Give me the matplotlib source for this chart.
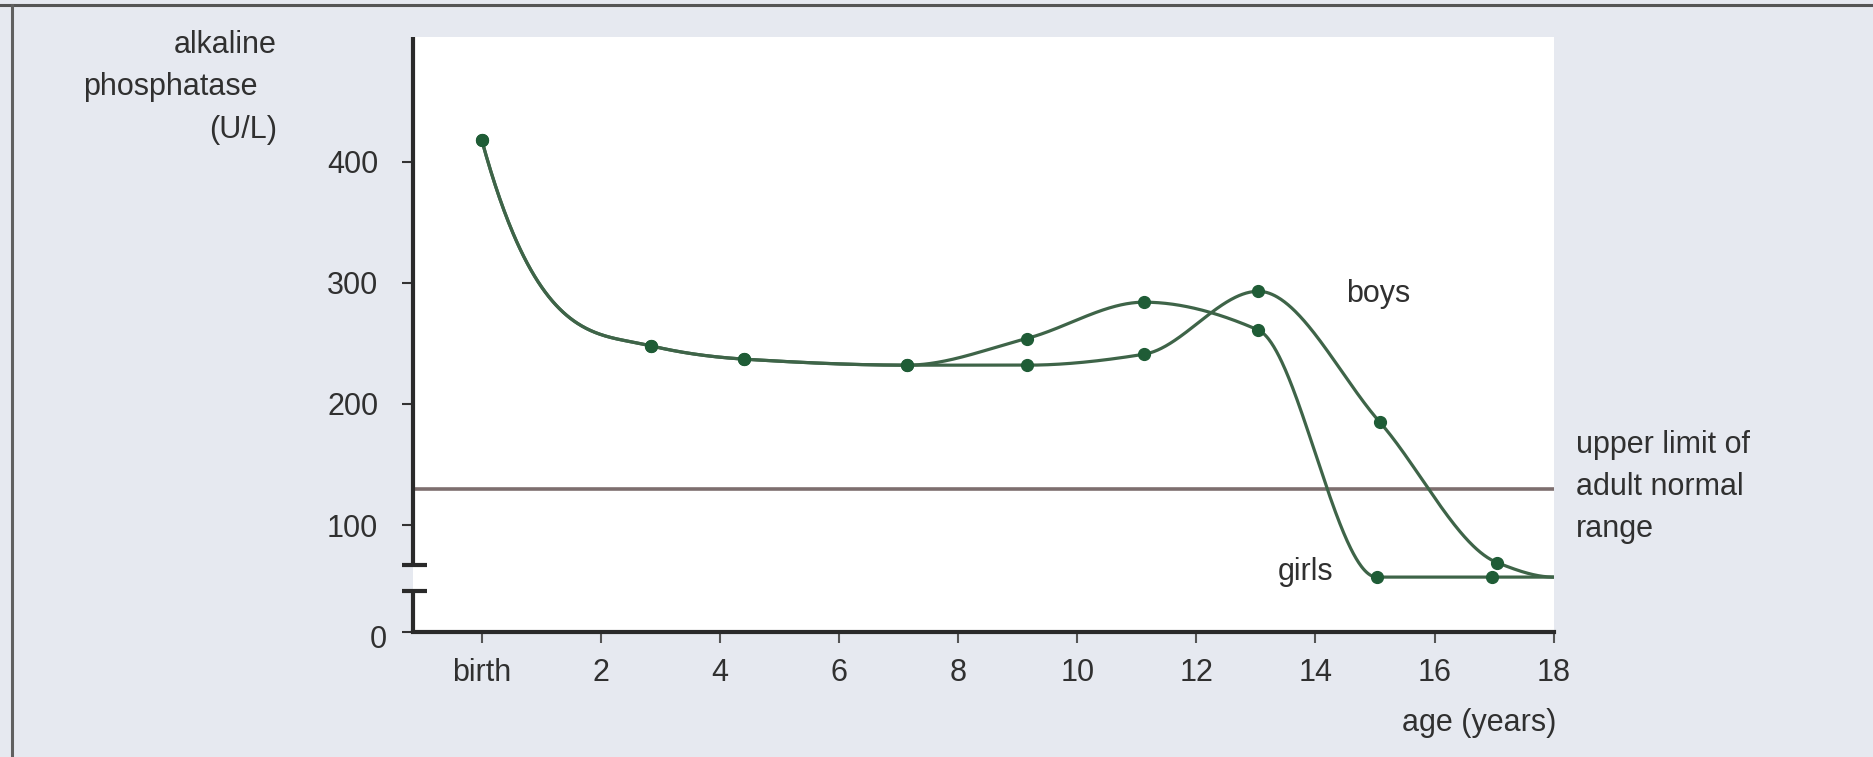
import numpy as np
import matplotlib
matplotlib.use("Agg")
import matplotlib.pyplot as plt
from matplotlib.lines import Line2D
from matplotlib.transforms import ScaledTranslation

plt.rcParams['font.family'] = ['Liberation Sans', 'DejaVu Sans']

# ---------------- data ----------------
girls_age = [0.0, 2.84, 4.40, 7.14, 9.15, 11.12, 13.04, 15.03, 16.97]
girls_alp = [418, 248, 237, 232, 254, 284, 261, 57, 57]
boys_age = [0.0, 2.84, 4.40, 7.14, 9.15, 11.12, 13.04, 15.08, 17.05]
boys_alp = [418, 248, 237, 232, 232, 241, 293, 185, 69]
line_end_age = 18.0          # both curves run on to the end of the axis
girls_end_alp = 57
boys_end_alp = 57
adult_upper_limit = 130      # upper limit of adult normal range (U/L)

x_tick_values = [0, 2, 4, 6, 8, 10, 12, 14, 16, 18]
x_tick_labels = ['birth', '2', '4', '6', '8', '10', '12', '14', '16', '18']
y_tick_values = [100, 200, 300, 400]
y_tick_labels = ['100', '200', '300', '400']
y_floor_label = '0'          # label at the foot of the broken y axis

# ---------------- helpers ----------------
def pchip(x, y, xs, left_steep=True):
    """Monotone cubic Hermite interpolation (Fritsch-Carlson)."""
    x = np.asarray(x, float)
    y = np.asarray(y, float)
    h = np.diff(x)
    d = np.diff(y) / h
    n = len(x)
    m = np.zeros(n)
    for k in range(1, n - 1):
        if d[k - 1] * d[k] <= 0:
            m[k] = 0.0
        else:
            w1 = 2 * h[k] + h[k - 1]
            w2 = h[k] + 2 * h[k - 1]
            m[k] = (w1 + w2) / (w1 / d[k - 1] + w2 / d[k])

    def end_slope(h0, h1, d0, d1):
        s = ((2 * h0 + h1) * d0 - h0 * d1) / (h0 + h1)
        if np.sign(s) != np.sign(d0):
            s = 0.0
        elif np.sign(d0) != np.sign(d1) and abs(s) > abs(3 * d0):
            s = 3 * d0
        return s

    # steepest monotone-preserving start (curve falls sharply after birth)
    m[0] = 3 * d[0] if left_steep else end_slope(h[0], h[1], d[0], d[1])
    m[-1] = end_slope(h[-1], h[-2], d[-1], d[-2])
    xs = np.asarray(xs, float)
    idx = np.clip(np.searchsorted(x, xs) - 1, 0, n - 2)
    t = (xs - x[idx]) / h[idx]
    h00 = 2 * t**3 - 3 * t**2 + 1
    h10 = t**3 - 2 * t**2 + t
    h01 = -2 * t**3 + 3 * t**2
    h11 = t**3 - t**2
    return (h00 * y[idx] + h10 * h[idx] * m[idx]
            + h01 * y[idx + 1] + h11 * h[idx] * m[idx + 1])

# ---------------- figure ----------------
BG = '#e6e9f0'
TXT = '#303030'
LINE = '#3e6448'
MARK = '#1f5c36'
FS = 22

fig = plt.figure(figsize=(18.73, 7.57), dpi=100, facecolor=BG)
ax = fig.add_axes([0.2205, 0.1655, 0.609, 0.786])
ax.set_facecolor('white')

x_lo, x_hi = -1.154, 18.0
y_lo, y_hi = 11.9, 503.2
ax.set_xlim(x_lo, x_hi)
ax.set_ylim(y_lo, y_hi)

# reference line
ax.axhline(adult_upper_limit, color='#7d6e6e', lw=2.6, zorder=2)

# curves
for ages, vals, end_val in ((girls_age, girls_alp, girls_end_alp),
                            (boys_age, boys_alp, boys_end_alp)):
    xa = list(ages) + [line_end_age]
    ya = list(vals) + [end_val]
    xs = np.linspace(xa[0], xa[-1], 1200)
    ax.plot(xs, pchip(xa, ya, xs), color=LINE, lw=2.3, zorder=3,
            solid_capstyle='round')
    ax.plot(ages, vals, 'o', color=MARK, ms=8.5, zorder=4)

# curve labels
ax.text(15.05, 290.7, 'boys', fontsize=FS, color=TXT, ha='center', va='center')
ax.text(13.84, 60.8, 'girls', fontsize=FS, color=TXT, ha='center', va='center')

# axes styling
for s in ('top', 'right', 'left'):
    ax.spines[s].set_visible(False)
ax.spines['bottom'].set_linewidth(3)
ax.spines['bottom'].set_color('#2a2a2a')

ax.set_xticks(x_tick_values)
ax.set_xticklabels(x_tick_labels)
ax.set_yticks([y_lo] + y_tick_values)
ax.set_yticklabels([y_floor_label] + y_tick_labels)
ax.tick_params(axis='x', direction='out', length=8, width=1.5, color='#555555',
               labelsize=FS, labelcolor=TXT, pad=11)
ax.tick_params(axis='y', direction='out', length=8, width=1.5, color='#333333',
               labelsize=FS, labelcolor=TXT, pad=17)
# the "0" at the foot of the broken axis sits a little right and low
lab0 = ax.get_yticklabels()[0]
lab0.set_transform(lab0.get_transform()
                   + ScaledTranslation(0.09, -0.05, fig.dpi_scale_trans))

# broken y axis (drawn in axes coordinates)
brk_lo, brk_hi = 0.069, 0.112
yax = dict(transform=ax.transAxes, color='#2a2a2a', lw=3, clip_on=False,
           solid_capstyle='butt', zorder=5)
ax.plot([0, 0], [0, brk_lo], **yax)
ax.plot([0, 0], [brk_hi, 1.0], **yax)
ax.plot([-0.0099, 0.012], [brk_lo, brk_lo], **yax)
ax.plot([-0.0099, 0.012], [brk_hi, brk_hi], **yax)

# axis titles
W, H = 1873.0, 757.0
fig.text(277 / W, 1 - 53 / H, 'alkaline', fontsize=FS, color=TXT,
         ha='right', va='baseline')
fig.text(83 / W, 1 - 95 / H, 'phosphatase', fontsize=FS, color=TXT,
         ha='left', va='baseline')
fig.text(277 / W, 1 - 138 / H, '(U/L)', fontsize=FS, color=TXT,
         ha='right', va='baseline')
fig.text(1556 / W, 1 - 731 / H, 'age (years)', fontsize=FS, color=TXT,
         ha='right', va='baseline')

for txt, base in (('upper limit of', 453), ('adult normal', 495), ('range', 537)):
    fig.text(1576 / W, 1 - base / H, txt, fontsize=FS, color=TXT,
             ha='left', va='baseline')

# outer frame (top and left edges)
fig.add_artist(Line2D([0.0, 1.0], [1 - 5 / H, 1 - 5 / H],
                      transform=fig.transFigure, color='#555555', lw=2.2))
fig.add_artist(Line2D([11.5 / W, 11.5 / W], [0.0, 1 - 5 / H],
                      transform=fig.transFigure, color='#606060', lw=2.2))

fig.savefig('out.png', dpi=100, facecolor=BG)
